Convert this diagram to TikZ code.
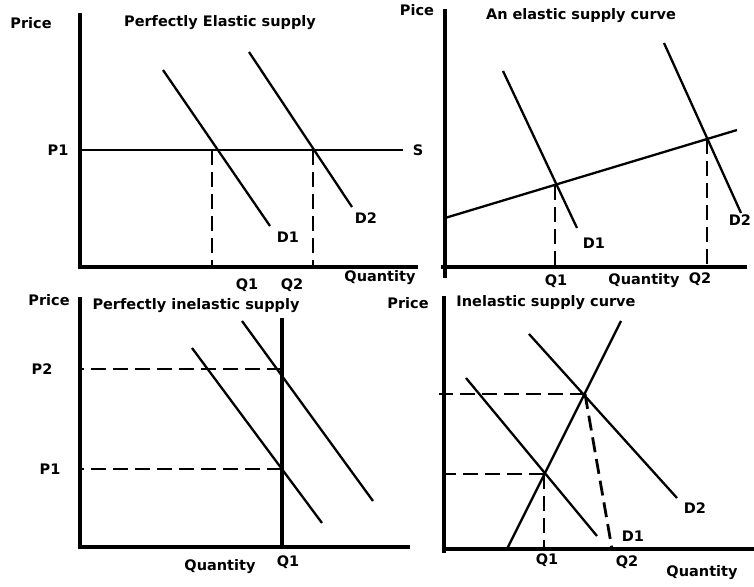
\documentclass[tikz,border=0pt]{standalone}
\usepackage{fontspec}
\setmainfont{DejaVu Sans}
\begin{document}
\begin{tikzpicture}[x=1pt, y=-1pt,
  axis/.style={line width=3.2pt},
  curve/.style={line width=2.3pt},
  guide/.style={line width=2.8pt, dash pattern=on 15pt off 7pt},
  lbl/.style={font=\fontsize{14.5}{16}\selectfont\bfseries, inner sep=0pt}]
\useasboundingbox (0,0) rectangle (754,586);
% perfectly elastic supply
\coordinate (o1) at (80,267);
\draw[axis] (80,13) -- (o1) -- (418,267);
\node[lbl] (price1) at (31,23) {Price};
\node[lbl] (title1) at (220,23) {Perfectly Elastic supply};
\node[lbl] (p1) at (58,150) {P1};
\node[lbl] (s1) at (418,150) {S};
\draw[curve] (80,150) -- ([xshift=-10pt]s1.west);
\draw[curve] (163,70) -- (270,226);
\draw[curve] (249,52) -- (352,207);
\coordinate (e1) at (212,150);
\coordinate (e2) at (313,150);
\draw[guide] (e1) -- (e1 |- o1);
\draw[guide] (e2) -- (e2 |- o1);
\node[lbl] (d1) at (288,237) {D1};
\node[lbl] (d2) at (366,218) {D2};
\node[lbl] (q1) at (247,285) {Q1};
\node[lbl] (q2) at (292,285) {Q2};
\node[lbl] (qty1) at (380,278) {Quantity};
% an elastic supply curve
\coordinate (o2) at (445,267);
\draw[axis] (445,9) -- (445,278);
\draw[axis] (441,267) -- (747,267);
\node[lbl] (price2) at (417,10) {Pice};
\node[lbl] (title2) at (581,16) {An elastic supply curve};
\draw[curve] (445,218) -- (737,130);
\draw[curve] (503,71) -- (577,228);
\draw[curve] (664,43) -- (741,213);
\coordinate (f1) at (555,185);
\coordinate (f2) at (707,139);
\draw[guide] (f1) -- (f1 |- o2);
\draw[guide] (f2) -- (f2 |- o2);
\node[lbl] (d3) at (594,243) {D1};
\node[lbl] (d4) at (740,220) {D2};
\node[lbl] (q3) at (556,281) {Q1};
\node[lbl] (qty2) at (644,281) {Quantity};
\node[lbl] (q4) at (700,279) {Q2};
% perfectly inelastic supply
\coordinate (o3) at (80,547);
\draw[axis] (80,297) -- (o3) -- (410,547);
\draw[axis] (282,318) -- (282,547);
\node[lbl] (price3) at (49,300) {Price};
\node[lbl] (title3) at (196,306) {Perfectly inelastic supply};
\coordinate (g1) at (282,469);
\coordinate (g2) at (282,369);
\draw[guide] (g2) -- (g2 -| o3);
\draw[guide] (g1) -- (g1 -| o3);
\draw[curve] (192,348) -- (322,523);
\draw[curve] (242,321) -- (373,501);
\node[lbl] (p2) at (42,369) {P2};
\node[lbl] (p3) at (50,469) {P1};
\node[lbl] (q5) at (288,562) {Q1};
\node[lbl] (qty3) at (220,567) {Quantity};
% inelastic supply curve
\coordinate (o4) at (444,549);
\draw[axis] (444,296) -- (444,553);
\draw[axis] (o4) -- (754,549);
\node[lbl] (price4) at (408,303) {Price};
\node[lbl] (title4) at (546,303) {Inelastic supply curve};
\draw[curve] (507,549) -- (621,321);
\draw[curve] (466,378) -- (597,536);
\draw[curve] (529,334) -- (677,498);
\coordinate (h1) at (544,474);
\coordinate (h2) at (585,394);
\draw[guide] (h1) -- (h1 -| o4);
\draw[guide] (h2) -- ([xshift=-5pt]h2 -| o4);
\draw[guide] (h1) -- (h1 |- o4);
\draw[guide] (h2) -- (612,549);
\node[lbl] (d5) at (633,536) {D1};
\node[lbl] (d6) at (695,508) {D2};
\node[lbl] (q6) at (547,560) {Q1};
\node[lbl] (q7) at (627,562) {Q2};
\node[lbl] (qty4) at (702,573) {Quantity};
\end{tikzpicture}
\end{document}
